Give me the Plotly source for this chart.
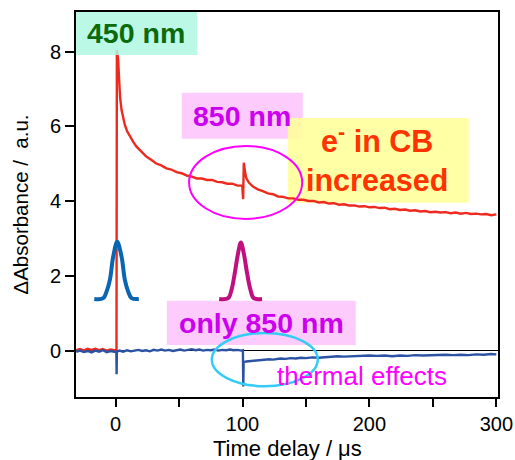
import plotly.graph_objects as go

# Transient absorption traces (time in microseconds)
t_450 = [-31, -28, -25, -22, -19, -16, -13, -10, -7, -4, -1, 0.7, 1.0, 1.5, 2.0, 2.8, 3.5,
         4.7, 6.0, 7.3, 9, 11.3, 14, 16.5, 20, 24, 28, 32, 36, 40, 44, 48, 52, 56, 60, 64,
         68, 72, 76, 80, 84, 88, 92, 96, 99.8, 100.5, 101.0, 101.5, 102.2, 103, 105, 108,
         112, 116, 120, 124, 128, 132, 136, 140, 144, 148, 152, 156, 160, 164, 168, 172,
         176, 180, 184, 188, 192, 196, 200, 204, 208, 212, 216, 220, 224, 228, 232, 236,
         240, 244, 248, 252, 256, 260, 264, 268, 272, 276, 280, 284, 288, 292, 296, 300]
a_450 = [0.02, 0.05, 0.01, 0.06, 0.03, 0.06, 0.02, 0.05, 0.01, 0.04, 0.02, 0.03, 8.05, 7.95,
         7.78, 7.25, 6.80, 6.44, 6.20, 6.04, 5.88, 5.73, 5.58, 5.46, 5.34, 5.20, 5.11, 5.01,
         4.96, 4.88, 4.85, 4.78, 4.75, 4.69, 4.66, 4.61, 4.61, 4.57, 4.57, 4.52, 4.51, 4.47,
         4.47, 4.42, 4.42, 4.06, 5.03, 4.88, 4.74, 4.62, 4.50, 4.40, 4.32, 4.27, 4.21, 4.19,
         4.13, 4.12, 4.08, 4.08, 4.04, 4.04, 4.01, 4.01, 3.97, 3.98, 3.94, 3.95, 3.91, 3.92,
         3.89, 3.89, 3.86, 3.87, 3.84, 3.85, 3.82, 3.83, 3.79, 3.80, 3.77, 3.78, 3.75, 3.76,
         3.73, 3.74, 3.71, 3.72, 3.70, 3.71, 3.68, 3.70, 3.67, 3.69, 3.66, 3.67, 3.65, 3.66,
         3.63, 3.65]

t_850 = [-31, -28, -25, -22, -19, -16, -13, -10, -7, -4, -1, 0.6, 0.8, 1.0, 3, 6, 9, 12,
         15, 18, 21, 24, 27, 30, 33, 36, 39, 42, 45, 48, 51, 54, 57, 60, 63, 66, 69, 72, 75,
         78, 81, 84, 87, 90, 93, 96, 99, 100.3, 100.6, 100.9, 103, 106, 109, 112, 115, 118,
         121, 124, 127, 130, 134, 138, 142, 146, 150, 155, 160, 165, 170, 175, 180, 185, 190,
         195, 200, 206, 212, 218, 224, 230, 236, 242, 248, 254, 260, 266, 272, 278, 284, 290,
         296, 300]
a_850 = [-0.02, 0.01, -0.03, 0.00, -0.04, 0.01, -0.02, 0.02, -0.03, 0.00, -0.02, -0.02,
         -0.62, -0.02, 0.01, -0.02, 0.02, -0.01, 0.01, 0.03, 0.00, 0.02, -0.01, 0.03, 0.01,
         0.04, 0.01, 0.03, 0.00, 0.02, 0.04, 0.01, 0.03, 0.05, 0.02, 0.04, 0.01, 0.03, 0.02,
         0.04, 0.01, 0.03, 0.02, 0.04, 0.02, 0.03, 0.01, 0.02, -0.95, -0.30, -0.28, -0.27,
         -0.26, -0.25, -0.25, -0.23, -0.22, -0.23, -0.21, -0.20, -0.21, -0.19, -0.20, -0.18,
         -0.19, -0.17, -0.18, -0.16, -0.16, -0.14, -0.15, -0.14, -0.13, -0.14, -0.12, -0.13,
         -0.12, -0.14, -0.12, -0.13, -0.11, -0.12, -0.11, -0.12, -0.10, -0.11, -0.10, -0.11,
         -0.09, -0.10, -0.08, -0.09]

# Laser pulse profiles (schematic)
t_pulse450 = [-16.8, -9.7, -7.1, -4.5, -1.9, 1.3, 4.7, 7.3, 9.9, 12.6, 18.3]
a_pulse450 = [1.39, 1.41, 1.59, 1.90, 2.52, 2.92, 2.52, 1.90, 1.59, 1.41, 1.39]
t_pulse850 = [81.6, 88.7, 91.3, 93.9, 96.5, 98.7, 101.0, 103.6, 106.3, 108.9, 115.4]
a_pulse850 = [1.39, 1.41, 1.63, 2.08, 2.61, 2.90, 2.61, 2.08, 1.63, 1.41, 1.39]

x_ticks = [0, 100, 200, 300]
y_ticks = [0, 2, 4, 6, 8]

FONT = "Arial, Liberation Sans, sans-serif"

fig = go.Figure()
fig.add_trace(go.Scatter(x=t_450, y=a_450, mode="lines",
                         line=dict(color="#EE2A1E", width=2.4)))
fig.add_trace(go.Scatter(x=t_850, y=a_850, mode="lines",
                         line=dict(color="#2C53A3", width=2.4)))
fig.add_trace(go.Scatter(x=t_pulse450, y=a_pulse450, mode="lines",
                         line=dict(color="#0A66B2", width=4, shape="spline")))
fig.add_trace(go.Scatter(x=t_pulse850, y=a_pulse850, mode="lines",
                         line=dict(color="#C0107F", width=4, shape="spline")))

shapes = [
    # label boxes
    dict(type="rect", xref="x", yref="y", x0=52.2, x1=147.5, y0=5.67, y1=6.90,
         fillcolor="#FDCCFD", line=dict(width=0), layer="below"),
    dict(type="rect", xref="x", yref="y", x0=135.7, x1=278.2, y0=3.96, y1=6.23,
         fillcolor="#FFFF99", opacity=0.88, line=dict(width=0), layer="below"),
    dict(type="rect", xref="x", yref="y", x0=40.4, x1=189.2, y0=0.16, y1=1.34,
         fillcolor="#FDCCFD", line=dict(width=0), layer="below"),
    dict(type="rect", xref="x", yref="y", x0=-31.5, x1=64.3, y0=7.91, y1=9.08,
         fillcolor="#AFF7E1", opacity=0.85, line=dict(width=0), layer="above"),
    # highlight ellipses
    dict(type="circle", xref="x", yref="y", x0=57.9, x1=147.0, y0=3.53, y1=5.48,
         line=dict(color="#FF00FF", width=2), layer="above"),
    dict(type="circle", xref="x", yref="y", x0=75.8, x1=159.3, y0=-0.94, y1=0.48,
         line=dict(color="#33CCF5", width=2.5), layer="above"),
]

annotations = [
    dict(x=16.4, y=8.49, text="<b>450 nm</b>", font=dict(size=28.5, color="#0B6A0B", family=FONT)),
    dict(x=99.4, y=6.28, text="<b>850 nm</b>", font=dict(size=28.5, color="#CC00EE", family=FONT)),
    dict(x=206.2, y=5.15, text="<b>e<sup>-</sup> in CB<br>increased</b>",
         font=dict(size=30.5, color="#FF3300", family=FONT)),
    dict(x=114.8, y=0.76, text="<b>only 850 nm</b>", font=dict(size=28.5, color="#CC00EE", family=FONT)),
    dict(x=194.3, y=-0.67, text="thermal effects", font=dict(size=26, color="#FF00FF", family=FONT)),
]
for a in annotations:
    a.update(xref="x", yref="y", showarrow=False, xanchor="center", yanchor="middle")

# x-axis title placed just under the tick labels
annotations.append(dict(xref="paper", yref="paper", x=0.5, y=-0.133, showarrow=False,
                        xanchor="center", yanchor="middle", text="Time delay / μs",
                        font=dict(size=22, color="black", family=FONT)))

fig.update_layout(
    width=515, height=460,
    margin=dict(l=76, r=17, t=12, b=63, autoexpand=False),
    paper_bgcolor="white", plot_bgcolor="white",
    showlegend=False,
    shapes=shapes, annotations=annotations,
    font=dict(family=FONT, color="black"),
)
fig.update_xaxes(
    range=[-31.2, 301.3], tickvals=x_ticks, ticks="outside", ticklen=8, tickwidth=1.5,
    tickcolor="black", tickfont=dict(size=20), showgrid=False, zeroline=False,
    showline=True, linecolor="black", linewidth=2, mirror=True, automargin=False,
    minor=dict(dtick=50, tick0=0, ticks="outside", ticklen=8, tickwidth=1.5, tickcolor="black"),
)
fig.update_yaxes(
    range=[-1.23, 9.06], tickvals=y_ticks, ticks="outside", ticklen=9, tickwidth=1.5,
    tickcolor="black", tickfont=dict(size=20), showgrid=False, automargin=False,
    zeroline=True, zerolinecolor="black", zerolinewidth=1,
    showline=True, linecolor="black", linewidth=2, mirror=True,
    title=dict(text="ΔAbsorbance /  a.u.", font=dict(size=20.5), standoff=16),
)

fig.write_html("out.html")
